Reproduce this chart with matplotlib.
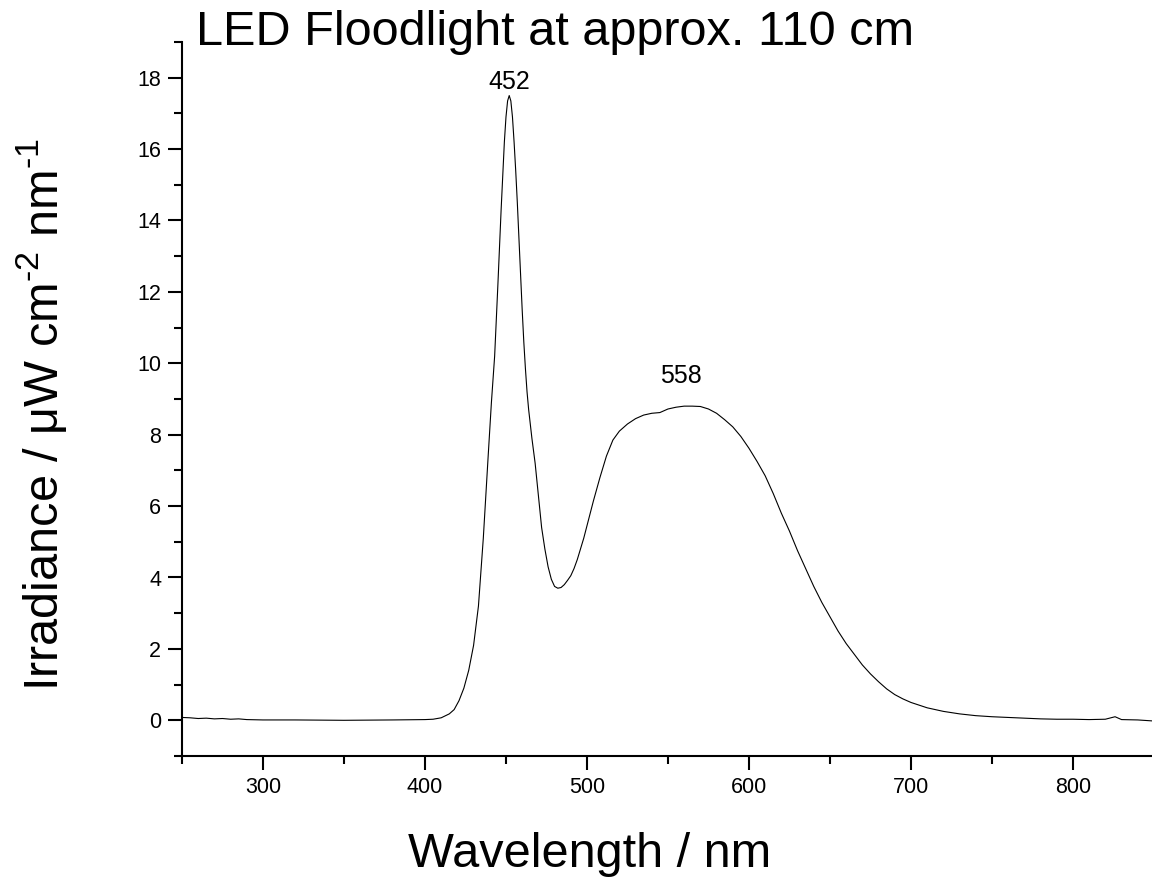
import matplotlib
matplotlib.use("Agg")
import matplotlib.pyplot as plt
from matplotlib.ticker import MultipleLocator

plt.rcParams['font.family'] = ['Liberation Sans', 'DejaVu Sans']
plt.rcParams['mathtext.fontset'] = 'custom'
plt.rcParams['mathtext.rm'] = 'Liberation Sans'
plt.rcParams['mathtext.it'] = 'Liberation Sans:italic'

# spectrum
wavelength = [250, 255, 260, 265, 270, 275, 280, 285, 290, 300, 320, 350, 380,
              400, 405, 410, 415, 418, 421, 424, 427, 430, 433, 436, 439, 441,
              443, 445, 447, 449, 450, 451, 452, 453, 454, 455, 456, 457, 458,
              459, 460, 461, 462, 463, 464, 465, 466, 468, 470, 472, 474, 476,
              478, 480, 482, 484, 486, 488, 490, 492, 494, 496, 498, 500, 504,
              508, 512, 516, 520, 525, 530, 535, 540, 545, 547, 550, 555, 560,
              565, 570, 575, 580, 585, 590, 595, 600, 605, 610, 615, 620, 625,
              630, 635, 640, 645, 650, 655, 660, 665, 670, 675, 680, 685, 690,
              695, 700, 710, 720, 730, 740, 750, 760, 770, 780, 790, 800, 810,
              820, 826, 830, 840, 850]
irradiance = [0.08, 0.07, 0.05, 0.06, 0.04, 0.05, 0.03, 0.04, 0.02, 0.01, 0.01,
              0.0, 0.01, 0.02, 0.03, 0.07, 0.18, 0.3, 0.55, 0.9, 1.4, 2.1, 3.2,
              5.1, 7.4, 8.9, 10.2, 12.2, 14.3, 16.2, 16.9, 17.35, 17.5, 17.35,
              16.9, 16.2, 15.4, 14.5, 13.5, 12.5, 11.5, 10.6, 9.85, 9.2, 8.7,
              8.3, 7.9, 7.2, 6.3, 5.4, 4.8, 4.3, 3.95, 3.75, 3.7, 3.72, 3.8,
              3.92, 4.05, 4.25, 4.5, 4.8, 5.1, 5.45, 6.15, 6.8, 7.4, 7.85, 8.1,
              8.3, 8.45, 8.55, 8.6, 8.62, 8.66, 8.72, 8.77, 8.8, 8.8, 8.79, 8.72,
              8.6, 8.42, 8.22, 7.95, 7.62, 7.25, 6.85, 6.35, 5.8, 5.3, 4.75, 4.25,
              3.75, 3.3, 2.9, 2.5, 2.15, 1.85, 1.55, 1.3, 1.08, 0.88, 0.72, 0.6,
              0.5, 0.35, 0.25, 0.18, 0.13, 0.1, 0.08, 0.06, 0.04, 0.03, 0.03,
              0.02, 0.03, 0.1, 0.02, 0.01, -0.02]

peak_labels = ["452", "558"]
peak_x = [452, 558]
peak_y = [17.55, 9.3]

fig = plt.figure(figsize=(11.52, 8.88), dpi=100)
ax = fig.add_axes([182 / 1152, 132 / 888, 970 / 1152, 714 / 888])

ax.plot(wavelength, irradiance, color='black', linewidth=0.8)

for lab, x, y in zip(peak_labels, peak_x, peak_y):
    ax.text(x, y, lab, ha='center', va='bottom', fontsize=18)

ax.set_xlim(250, 848.8)
ax.set_ylim(-1, 19)
ax.xaxis.set_major_locator(MultipleLocator(100))
ax.xaxis.set_minor_locator(MultipleLocator(50))
ax.yaxis.set_major_locator(MultipleLocator(2))
ax.yaxis.set_minor_locator(MultipleLocator(1))

for side in ['top', 'right']:
    ax.spines[side].set_visible(False)
for side in ['left', 'bottom']:
    ax.spines[side].set_linewidth(1.5)

ax.tick_params(which='major', direction='out', length=10, width=1.5,
               labelsize=15.5, pad=5)
ax.tick_params(which='minor', direction='out', length=5.5, width=1.5)

ax.set_xlabel("Wavelength / nm", fontsize=35)
ax.xaxis.set_label_coords(0.42, -0.106)
ax.set_ylabel(r"Irradiance / μW cm$^{\text{-2}}$ nm$^{\text{-1}}$", fontsize=35)
ax.yaxis.set_label_coords(-0.117, 0.478)

fig.text(196 / 1152, 1 - 45 / 888, "LED Floodlight at approx. 110 cm",
         fontsize=35, ha='left', va='baseline')

fig.savefig("out.png", dpi=100)
